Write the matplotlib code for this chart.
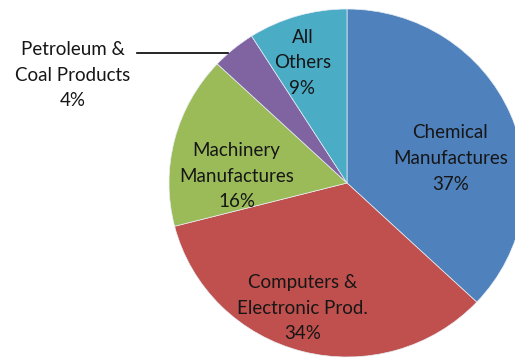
import matplotlib.pyplot as plt

# data
categories = ["Chemical\nManufactures", "Computers &\nElectronic Prod.", "Machinery\nManufactures",
              "Petroleum &\nCoal Products", "All\nOthers"]
shares = [37, 34, 16, 4, 9]
colors = ["#4F81BD", "#C0504D", "#9BBB59", "#8064A2", "#4BACC6"]

# label spots inside / outside the pie (axes data units)
label_pos = [(0.58, 0.14), (-0.25, -0.72), (-0.62, 0.04), (-1.54, 0.62), (-0.25, 0.69)]

plt.rcParams['font.family'] = ['Lato', 'DejaVu Sans']

fig = plt.figure(figsize=(5.15, 3.62), dpi=100)
ax = fig.add_axes([(347 - 178) / 515, (179 - 174) / 362, 356 / 515, 348 / 362])

ax.pie(shares, colors=colors, startangle=90, counterclock=False,
       wedgeprops=dict(linewidth=0.5, edgecolor="#e8eef5"))
ax.set_aspect('auto')
ax.set_xlim(-1, 1)
ax.set_ylim(-1, 1)

for name, val, (x, y) in zip(categories, shares, label_pos):
    ax.text(x, y, f"{name}\n{val}%", ha='center', va='center', fontsize=13.5,
            color="#161616", linespacing=1.62, clip_on=False)

# leader line for the small slice
ax.plot([-1.18, -0.67], [0.745, 0.745], color="black", lw=1.2, clip_on=False)

fig.savefig("out.png", dpi=100)
